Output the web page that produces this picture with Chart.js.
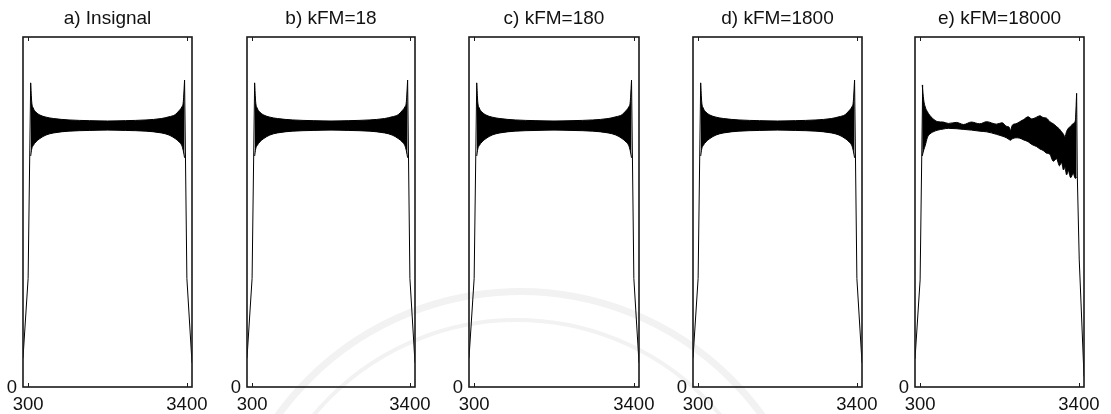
<!DOCTYPE html>
<html>
<head>
<meta charset="utf-8">
<script src="https://cdn.jsdelivr.net/npm/chart.js@4/dist/chart.umd.min.js"></script>
<style>
  html, body { margin: 0; padding: 0; background: #fff; }
  #wrap { position: relative; width: 1111px; height: 414px; overflow: hidden; }
  #wrap canvas { position: absolute; top: 0; }
  .mark { position: absolute; border-radius: 50%; border: 7px solid #f2f2f2; }
</style>
</head>
<body>
<div id="wrap">
  <div class="mark" style="left:218px; top:288px; width:590px; height:590px;"></div>
  <div class="mark" style="left:250px; top:318px; width:526px; height:526px; border-width:4px;"></div>
</div>
<script>
(function () {
    "use strict";

    const titles = ["a) Insignal", "b) kFM=18", "c) kFM=180", "d) kFM=1800", "e) kFM=18000"];
    const xTicks = [300, 3400];
    const yTicks = [0];

    // envelope of the dense oscillation (panels a-d)
    const envX = [350, 370, 400, 450, 530, 650, 800, 1100, 1500, 1850, 2200, 2600, 2900, 3050, 3170, 3250, 3300, 3330, 3355];
    const upperA = [0.869, 0.815, 0.797, 0.786, 0.777, 0.771, 0.767, 0.763, 0.761, 0.760, 0.761, 0.763, 0.767, 0.772, 0.778, 0.790, 0.800, 0.815, 0.877];
    const lowerA = [0.660, 0.680, 0.690, 0.700, 0.710, 0.720, 0.726, 0.731, 0.733, 0.734, 0.733, 0.731, 0.726, 0.720, 0.710, 0.700, 0.690, 0.675, 0.655];

    // band edges (rise / fall)
    const edgeLeftX = [200, 300, 350];
    const edgeLeftY = [0.083, 0.31, 0.869];
    const edgeRightX = [3355, 3400, 3500];
    const edgeRightY = [0.877, 0.31, 0.069];

    // panel e
    const envXE = [341, 370, 400, 440, 484, 540, 647, 750, 850, 1006, 1150, 1300, 1463, 1600, 1790, 1900, 1986, 2040, 2064, 2100, 2170, 2246, 2320, 2409, 2480, 2573, 2640, 2702, 2770, 2833, 2900, 2965, 3020, 3062, 3100, 3127, 3160, 3192, 3240, 3290, 3330, 3356];
    const upperE = [0.863, 0.820, 0.800, 0.787, 0.777, 0.768, 0.758, 0.757, 0.753, 0.756, 0.750, 0.757, 0.752, 0.758, 0.751, 0.755, 0.745, 0.742, 0.733, 0.748, 0.752, 0.758, 0.764, 0.772, 0.766, 0.771, 0.775, 0.770, 0.768, 0.758, 0.752, 0.744, 0.737, 0.729, 0.722, 0.715, 0.730, 0.739, 0.745, 0.753, 0.760, 0.839];
    const lowerE = [0.660, 0.677, 0.690, 0.712, 0.722, 0.728, 0.734, 0.737, 0.739, 0.738, 0.736, 0.734, 0.731, 0.729, 0.722, 0.717, 0.712, 0.707, 0.705, 0.709, 0.712, 0.711, 0.706, 0.701, 0.693, 0.687, 0.680, 0.676, 0.668, 0.665, 0.645, 0.652, 0.632, 0.641, 0.620, 0.628, 0.606, 0.618, 0.598, 0.610, 0.596, 0.600];
    const edgeLeftYE = [0.08, 0.306, 0.863];
    const edgeRightXE = [3356, 3370, 3407, 3425, 3500];
    const edgeRightYE = [0.839, 0.60, 0.363, 0.30, 0.03];

    const panelLeft = [23, 247, 469, 693, 915];
    const panelRight = [192, 415, 639, 862, 1084];
    const plotTop = 37, plotBottom = 387, H = 414;

    const font = "'Liberation Sans', Arial, sans-serif";

    function pts(xs, ys) {
        return xs.map((x, i) => ({ x: x, y: ys[i] }));
    }

    const framePlugin = {
        id: "frame",
        afterDraw(chart, args, opts) {
            const ctx = chart.ctx, a = chart.chartArea;
            const x = chart.scales.x, y = chart.scales.y;
            ctx.save();
            ctx.strokeStyle = "#1a1a1a";
            ctx.lineWidth = 1.6;
            ctx.strokeRect(a.left, a.top, a.right - a.left, a.bottom - a.top);
            ctx.lineWidth = 1;
            xTicks.forEach((v) => {
                const px = Math.round(x.getPixelForValue(v)) + 0.5;
                ctx.beginPath();
                ctx.moveTo(px, a.top);
                ctx.lineTo(px, a.top + 4);
                ctx.moveTo(px, a.bottom);
                ctx.lineTo(px, a.bottom - 4);
                ctx.stroke();
            });
            ctx.fillStyle = "#111";
            ctx.font = "18.5px " + font;
            ctx.textBaseline = "alphabetic";
            ctx.textAlign = "center";
            xTicks.forEach((v) => ctx.fillText(String(v), x.getPixelForValue(v), a.bottom + 23));
            ctx.textAlign = "right";
            yTicks.forEach((v) => ctx.fillText(String(v), a.left - 6, y.getPixelForValue(v) + 6));
            ctx.font = "19px " + font;
            ctx.textAlign = "center";
            ctx.fillText(opts.title, (a.left + a.right) / 2, 24);
            ctx.restore();
        },
    };

    function makePanel(i, ex, up, lo, lx, ly, rx, ry) {
        const cv = document.createElement("canvas");
        const left = panelLeft[i] - 24;
        const w = panelRight[i] - panelLeft[i] + 24 + 26;
        cv.width = w;
        cv.height = H;
        cv.style.left = left + "px";
        document.getElementById("wrap").appendChild(cv);

        const line = { borderColor: "#000", borderWidth: 1, pointRadius: 0, fill: false };
        new Chart(cv, {
            type: "line",
            data: {
                datasets: [
                    Object.assign({}, line, { data: pts(ex, up), cubicInterpolationMode: "monotone" }),
                    Object.assign({}, line, { data: pts(ex, lo), cubicInterpolationMode: "monotone", fill: "-1", backgroundColor: "#000" }),
                    Object.assign({}, line, { data: pts(lx, ly) }),
                    Object.assign({}, line, { data: pts(rx, ry) }),
                ],
            },
            options: {
                responsive: false,
                animation: false,
                events: [],
                layout: {
                    padding: { left: 24, right: 26, top: plotTop, bottom: H - plotBottom },
                },
                scales: {
                    x: { type: "linear", min: 200, max: 3500, display: false },
                    y: { type: "linear", min: 0, max: 1, display: false },
                },
                plugins: {
                    legend: { display: false },
                    tooltip: { enabled: false },
                    frame: { title: titles[i] },
                },
            },
            plugins: [framePlugin],
        });
    }

    for (let i = 0; i < 4; i++) {
        makePanel(i, envX, upperA, lowerA, edgeLeftX, edgeLeftY, edgeRightX, edgeRightY);
    }
    makePanel(4, envXE, upperE, lowerE, edgeLeftX, edgeLeftYE, edgeRightXE, edgeRightYE);
})();
</script>
</body>
</html>
